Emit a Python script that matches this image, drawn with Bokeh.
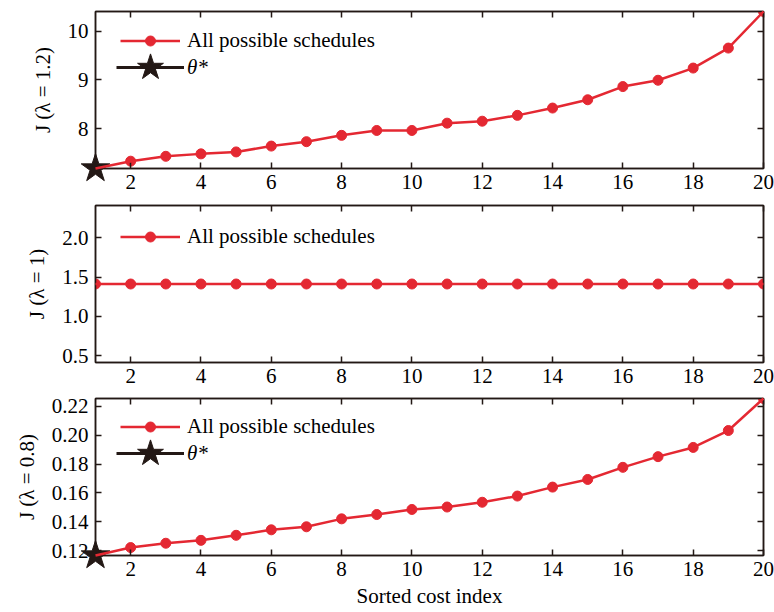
from bokeh.plotting import figure
from bokeh.models import (Range1d, LinearAxis, FixedTicker, Legend, LegendItem,
                          NumeralTickFormatter)
from bokeh.layouts import column
from bokeh.embed import file_html
from bokeh.resources import INLINE

# ---------------- data ----------------
cost_index = [1, 2, 3, 4, 5, 6, 7, 8, 9, 10, 11, 12, 13, 14, 15, 16, 17, 18, 19, 20]
j_lambda_12 = [7.18, 7.33, 7.43, 7.48, 7.52, 7.64, 7.73, 7.86, 7.96, 7.96,
               8.11, 8.15, 8.27, 8.42, 8.59, 8.86, 8.99, 9.24, 9.65, 10.40]
j_lambda_10 = [1.414, 1.414, 1.414, 1.414, 1.414, 1.414, 1.414, 1.414, 1.414, 1.414,
               1.414, 1.414, 1.414, 1.414, 1.414, 1.414, 1.414, 1.414, 1.414, 1.414]
j_lambda_08 = [0.1166, 0.1221, 0.1251, 0.1271, 0.1306, 0.1344, 0.1365, 0.1420, 0.1450, 0.1485,
               0.1502, 0.1535, 0.1578, 0.1640, 0.1693, 0.1777, 0.1851, 0.1915, 0.2032, 0.2254]
theta_x_12 = [1]
theta_y_12 = [7.18]
theta_x_08 = [1]
theta_y_08 = [0.1166]

x_ticks = [2, 4, 6, 8, 10, 12, 14, 16, 18, 20]
y_ticks_12 = [8, 9, 10]
y_ticks_10 = [0.5, 1.0, 1.5, 2.0]
y_ticks_08 = [0.12, 0.14, 0.16, 0.18, 0.20, 0.22]

series_label = "All possible schedules"
theta_label = "θ*"
x_label = "Sorted cost index"

RED = "#e42832"
DARK = "#231815"
FONT = "'Liberation Serif', 'Times New Roman', serif"
FS = "21px"
W = 774
L = 95
FRAME_W = 668


def make_panel(y, yr, yticks, yfmt, ylabel, height, top, bottom, frame_h,
               theta=None, leg_a_center=29, leg_b_center=56, xlabel=None):
    p = figure(width=W, height=height, x_range=Range1d(1, 20), y_range=Range1d(*yr),
               output_backend="svg", toolbar_location=None,
               min_border_left=L, min_border_right=W - L - FRAME_W,
               min_border_top=top, min_border_bottom=bottom,
               background_fill_color="white", border_fill_color="white")
    p.xgrid.visible = False
    p.ygrid.visible = False
    p.outline_line_color = DARK
    p.outline_line_width = 1.5
    p.outline_line_alpha = 1

    # axes
    p.xaxis.ticker = FixedTicker(ticks=x_ticks)
    p.yaxis.ticker = FixedTicker(ticks=yticks)
    p.yaxis.formatter = NumeralTickFormatter(format=yfmt)
    p.yaxis.axis_label = ylabel
    if xlabel:
        p.xaxis.axis_label = xlabel
    for ax in p.xaxis + p.yaxis:
        ax.major_tick_in = 6
        ax.major_tick_out = 0
        ax.minor_tick_in = 0
        ax.minor_tick_out = 0
        ax.minor_tick_line_color = None
        ax.axis_line_color = DARK
        ax.axis_line_width = 1.5
        ax.major_tick_line_color = DARK
        ax.major_tick_line_width = 1.5
        ax.major_label_text_font = FONT
        ax.major_label_text_font_size = FS
        ax.major_label_text_color = "black"
        ax.axis_label_text_font = FONT
        ax.axis_label_text_font_size = FS
        ax.axis_label_text_font_style = "normal"
        ax.axis_label_text_color = "black"
    p.xaxis.major_label_standoff = 6
    p.xaxis.axis_label_standoff = 5
    p.yaxis.major_label_standoff = 7
    p.yaxis.axis_label_standoff = 10

    for place, tk in (("above", x_ticks), ("right", yticks)):
        ax = LinearAxis(ticker=FixedTicker(ticks=tk), major_tick_in=6, major_tick_out=0,
                        minor_tick_in=0, minor_tick_out=0,
                        minor_tick_line_color=None, axis_line_color=DARK, axis_line_width=1.5,
                        major_tick_line_color=DARK, major_tick_line_width=1.5,
                        major_label_text_font_size="0px", major_label_text_color=None,
                        major_label_standoff=0)
        p.add_layout(ax, place)

    circ = p.scatter(cost_index, y, size=10, color=RED, marker="circle")
    star = None
    if theta is not None:
        # overlay level so that the marker is not clipped at the frame corner
        star = p.scatter(theta[0], theta[1], size=30, marker="star",
                         fill_color=DARK, line_color=DARK, line_width=1, level="overlay")
    line = p.line(cost_index, y, line_width=2.5, color=RED, level="overlay")
    leg_a = Legend(items=[LegendItem(label=series_label, renderers=[line, circ])],
                   location=(25, frame_h - leg_a_center - 12.5),
                   glyph_width=60, glyph_height=25, label_standoff=7, padding=0, margin=0,
                   spacing=0, border_line_color=None, background_fill_alpha=0,
                   label_text_font=FONT, label_text_font_size=FS, label_text_color="black")
    p.add_layout(leg_a)
    if star is not None:
        bl_leg = p.line(theta[0], theta[1], line_width=3, color=DARK)
        leg_b = Legend(items=[LegendItem(label=theta_label, renderers=[bl_leg, star])],
                       location=(21, frame_h - leg_b_center - 34),
                       glyph_width=68, glyph_height=68, label_standoff=3, padding=0, margin=0,
                       spacing=0, border_line_color=None, background_fill_alpha=0,
                       label_text_font=FONT, label_text_font_size=FS,
                       label_text_font_style="italic", label_text_color="black")
        p.add_layout(leg_b)
    return p


p1 = make_panel(j_lambda_12, (7.18, 10.40), y_ticks_12, "0", "J (λ = 1.2)",
                height=204, top=11, bottom=36, frame_h=157,
                theta=(theta_x_12, theta_y_12), leg_a_center=29, leg_b_center=56)
p2 = make_panel(j_lambda_10, (0.414, 2.414), y_ticks_10, "0.0", "J (λ = 1)",
                height=189, top=1, bottom=31, frame_h=157, leg_a_center=31)
p3 = make_panel(j_lambda_08, (0.1166, 0.2254), y_ticks_08, "0.00", "J (λ = 0.8)",
                height=217, top=5, bottom=54, frame_h=158,
                theta=(theta_x_08, theta_y_08), leg_a_center=29, leg_b_center=56,
                xlabel=x_label)

layout = column(p1, p2, p3, spacing=0)
open("out.html", "w").write(file_html(layout, INLINE))
